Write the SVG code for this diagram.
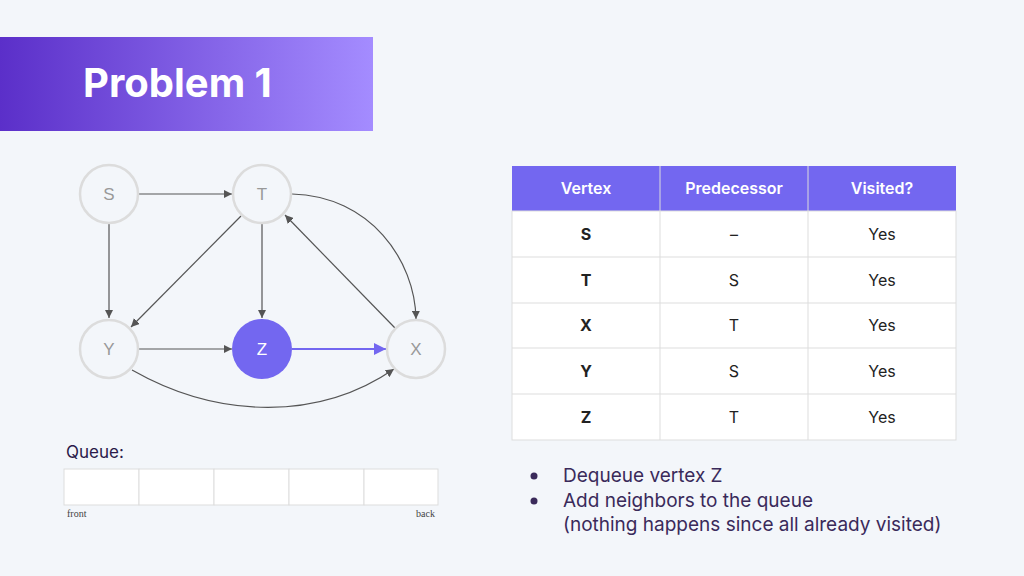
<svg xmlns="http://www.w3.org/2000/svg" width="1024" height="576" viewBox="0 0 1024 576">
<defs>
<linearGradient id="hg" x1="0" y1="0" x2="1" y2="0"><stop offset="0" stop-color="#5b2fc9"/><stop offset="1" stop-color="#a48cff"/></linearGradient>
<marker id="ah" viewBox="0 0 10 10" refX="10" refY="5" markerWidth="7" markerHeight="7" orient="auto"><path d="M0,0 L10,5 L0,10 z" fill="#555"/></marker>
<marker id="ap" viewBox="0 0 10 10" refX="10" refY="5" markerWidth="6" markerHeight="6" orient="auto"><path d="M0,0 L10,5 L0,10 z" fill="#7367f0"/></marker>
<style>
.n{fill:#f3f6fa;stroke:#dcdcdc;stroke-width:2.5}
.nl{font-family:"Liberation Sans",Arial,sans-serif;font-size:17px;fill:#999;text-anchor:middle}
.e{fill:none;stroke:#555;stroke-width:1.2;marker-end:url(#ah)}
.t{font-family:Inter,"Liberation Sans",sans-serif;font-size:16px;fill:#222;text-anchor:middle}
.th{font-family:Inter,"Liberation Sans",sans-serif;font-size:16px;fill:#fff;font-weight:600;text-anchor:middle}
.b{font-family:Inter,"Liberation Sans",sans-serif;font-size:19px;fill:#3a2a5a}
</style>
</defs>
<rect width="1024" height="576" fill="#f3f6fa"/>
<rect x="0" y="37" width="373" height="94" fill="url(#hg)"/>
<text x="83" y="97" font-family="Inter,'Liberation Sans',sans-serif" font-size="40" font-weight="bold" fill="#fff">Problem 1</text>
<g id="connectors">
<line class="e" x1="139" y1="194" x2="232" y2="194"/>
<line class="e" x1="109" y1="224" x2="109" y2="318"/>
<line class="e" x1="241" y1="216" x2="131" y2="327"/>
<line class="e" x1="262" y1="224" x2="262" y2="318"/>
<line class="e" x1="139" y1="349" x2="232" y2="349"/>
<line class="e" x1="395" y1="328" x2="285" y2="215"/>
<path class="e" d="M292,194 C370,196 415,260 416,319"/>
<path class="e" d="M132,370 C220,420 320,420 394,369"/>
<line x1="292" y1="349" x2="386" y2="349" stroke="#7367f0" stroke-width="2" marker-end="url(#ap)"/>
</g>
<g id="node-S"><circle class="n" cx="109" cy="194" r="29"/><text class="nl" x="109" y="200">S</text></g>
<g id="node-T"><circle class="n" cx="262" cy="194" r="29"/><text class="nl" x="262" y="200">T</text></g>
<g id="node-Y"><circle class="n" cx="109" cy="349" r="29"/><text class="nl" x="109" y="355">Y</text></g>
<g id="node-Z"><circle cx="262" cy="349" r="30" fill="#7367f0"/><text class="nl" x="262" y="355" fill="#fff" style="fill:#fff">Z</text></g>
<g id="node-X"><circle class="n" cx="416" cy="349" r="29"/><text class="nl" x="416" y="355">X</text></g>
<g id="queue">
<text x="66" y="458" font-family="Inter,'Liberation Sans',sans-serif" font-size="17" fill="#2a1a4a">Queue:</text>
<g fill="#fff" stroke="#ddd" stroke-width="1">
<rect x="64" y="469" width="75" height="36"/><rect x="139" y="469" width="75" height="36"/><rect x="214" y="469" width="75" height="36"/><rect x="289" y="469" width="75" height="36"/><rect x="364" y="469" width="74" height="36"/>
</g>
<text x="67" y="517" font-family="'Liberation Serif',serif" font-size="10" fill="#444">front</text>
<text x="435" y="517" font-family="'Liberation Serif',serif" font-size="10" fill="#444" text-anchor="end">back</text>
</g>
<g id="table">
<rect x="512" y="166" width="444" height="45" fill="#7367f0"/>
<rect x="512" y="211" width="444" height="229" fill="#fff" stroke="#ddd"/>
<g stroke="#ddd" stroke-width="1">
<line x1="660" y1="166" x2="660" y2="440"/><line x1="808" y1="166" x2="808" y2="440"/>
<line x1="512" y1="257" x2="956" y2="257"/><line x1="512" y1="303" x2="956" y2="303"/><line x1="512" y1="348" x2="956" y2="348"/><line x1="512" y1="394" x2="956" y2="394"/>
</g>
<text class="th" x="586" y="194">Vertex</text><text class="th" x="734" y="194">Predecessor</text><text class="th" x="882" y="194">Visited?</text>
<g font-weight="bold"><text class="t" x="586" y="240" font-weight="bold">S</text><text class="t" x="586" y="286" font-weight="bold">T</text><text class="t" x="586" y="331" font-weight="bold">X</text><text class="t" x="586" y="377" font-weight="bold">Y</text><text class="t" x="586" y="423" font-weight="bold">Z</text></g>
<text class="t" x="734" y="240">–</text><text class="t" x="734" y="286">S</text><text class="t" x="734" y="331">T</text><text class="t" x="734" y="377">S</text><text class="t" x="734" y="423">T</text>
<text class="t" x="882" y="240">Yes</text><text class="t" x="882" y="286">Yes</text><text class="t" x="882" y="331">Yes</text><text class="t" x="882" y="377">Yes</text><text class="t" x="882" y="423">Yes</text>
</g>
<g id="bullets">
<circle cx="534" cy="476" r="3.5" fill="#3a2a5a"/><circle cx="534" cy="501" r="3.5" fill="#3a2a5a"/>
<text class="b" x="563" y="482">Dequeue vertex Z</text>
<text class="b" x="563" y="507">Add neighbors to the queue</text>
<text class="b" x="563" y="531">(nothing happens since all already visited)</text>
</g>
</svg>
